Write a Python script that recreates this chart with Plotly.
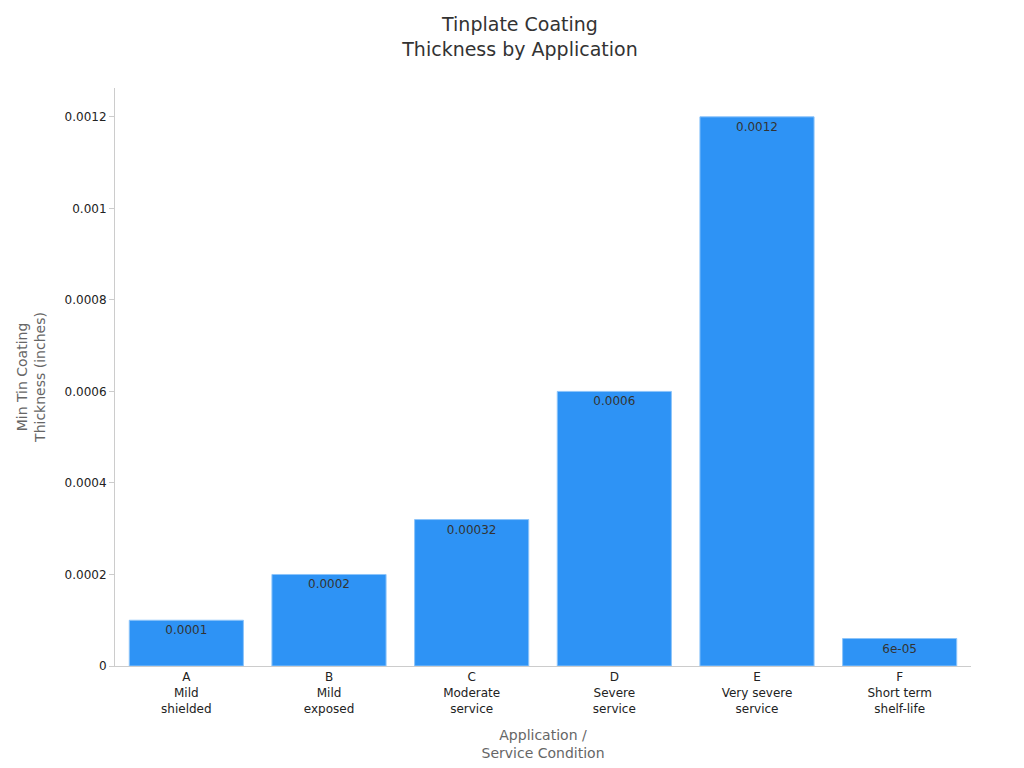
import plotly.graph_objects as go

categories = ["A<br>Mild<br>shielded", "B<br>Mild<br>exposed", "C<br>Moderate<br>service",
              "D<br>Severe<br>service", "E<br>Very severe<br>service", "F<br>Short term<br>shelf-life"]
thickness = [0.0001, 0.0002, 0.00032, 0.0006, 0.0012, 0.00006]
labels = ["0.0001", "0.0002", "0.00032", "0.0006", "0.0012", "6e-05"]

fig = go.Figure(go.Bar(
    x=categories, y=thickness, text=labels, textposition="inside",
    insidetextanchor="end", textfont=dict(color="#333333", size=12),
    marker=dict(color="#2E93F5", line=dict(color="#8CC4FA", width=1)),
    width=0.8,
))

fig.update_layout(
    width=1024, height=768,
    font=dict(family="DejaVu Sans", size=12, color="#222222"),
    title=dict(text="Tinplate Coating<br>Thickness by Application", x=0.5, y=0.97,
               xanchor="center", yanchor="top", font=dict(size=19, color="#333333")),
    plot_bgcolor="white", paper_bgcolor="white",
    margin=dict(l=107, r=61, t=80, b=110),
    showlegend=False,
    uniformtext=dict(mode="show", minsize=12),
)
fig.update_xaxes(title=dict(text="Application /<br>Service Condition", font=dict(size=14, color="#666666")),
                 showline=True, linecolor="#CCCCCC", ticks="", tickfont=dict(size=12))
fig.update_yaxes(title=dict(text="Min Tin Coating<br>Thickness (inches)", font=dict(size=14, color="#666666")),
                 range=[0, 0.001263], tickvals=[0, 0.0002, 0.0004, 0.0006, 0.0008, 0.001, 0.0012],
                 ticktext=["0", "0.0002", "0.0004", "0.0006", "0.0008", "0.001", "0.0012"],
                 showline=True, linecolor="#CCCCCC", ticks="outside", tickcolor="#CCCCCC",
                 showgrid=False, zeroline=False)

fig.write_html("out.html")
